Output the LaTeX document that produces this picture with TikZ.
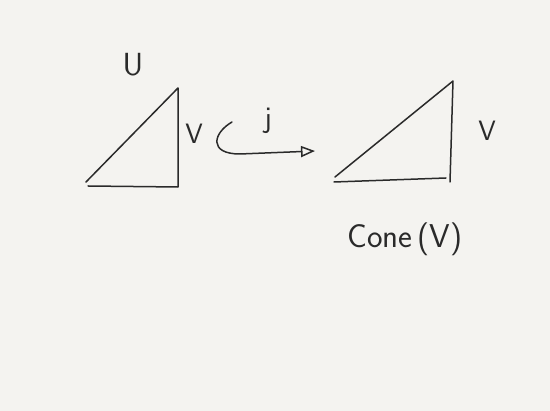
\documentclass[tikz,border=0pt]{standalone}
\usetikzlibrary{arrows.meta}
\definecolor{paper}{HTML}{F4F3F0}
\definecolor{ink}{HTML}{2A2A2A}
\tikzset{
  stroke/.style={draw=ink, line width=1.5pt, line cap=round, line join=round},
  hand/.style={text=ink, font=\sffamily, inner sep=0pt},
}
\begin{document}
\begin{tikzpicture}[x=1pt,y=-1pt]
\fill[paper] (0,0) rectangle (550,411);
\useasboundingbox (0,0) rectangle (550,411);
% left triangle
\draw[stroke] (86,182) -- (178,88) -- (178,187);
\draw[stroke] (88,186) -- (178,187);
\node[hand, font=\sffamily\fontsize{32}{36}\selectfont] (U) at (133,65) {U};
\node[hand, font=\sffamily\fontsize{28}{32}\selectfont] (V1) at (194,134) {V};
% hooked arrow
\coordinate (hs) at (232,122);
\coordinate (he) at (315,151);
\draw[stroke, -{Triangle[open,length=14pt,width=11pt]}] (hs) .. controls (213,133) and (208,154) .. (240,154) -- (he);
\node[hand, font=\sffamily\fontsize{30}{34}\selectfont] (j) at (268,121) {j};
% right triangle
\draw[stroke] (335,177) -- (453,81) -- (450,182);
\draw[stroke] (334,182) -- (446,178);
\node[hand, font=\sffamily\fontsize{28}{32}\selectfont] (V2) at (487,131) {V};
\node[hand, font=\sffamily\fontsize{33}{36}\selectfont] (cone) at (405,239) {Cone\,(V)};
\end{tikzpicture}
\end{document}
